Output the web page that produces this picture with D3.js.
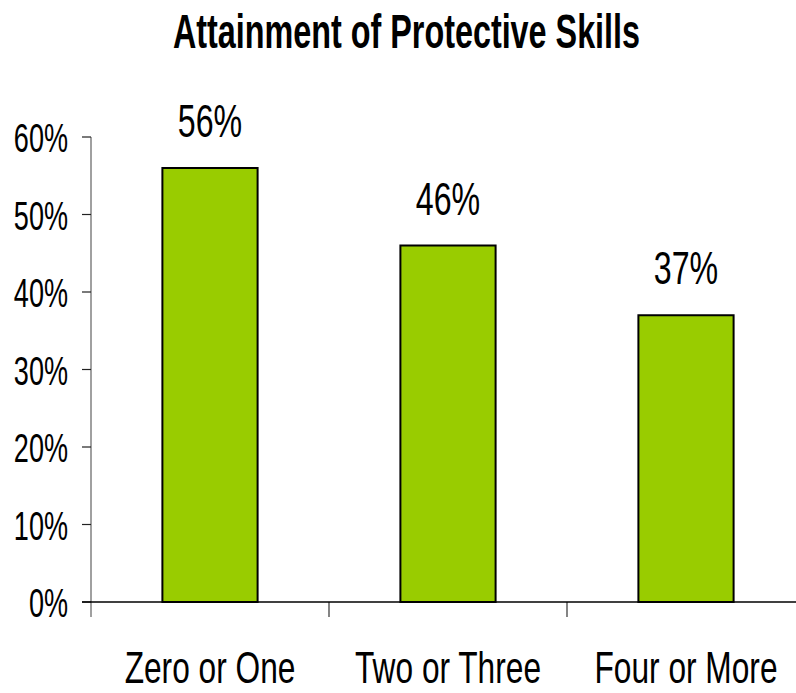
<!DOCTYPE html>
<html lang="en">
<head>
  <meta charset="UTF-8" />
  <title>Attainment of Protective Skills</title>
  <script src="https://d3js.org/d3.v7.min.js"></script>
  <style>
    body {
      margin: 0;
      background: #fff;
    }

    svg {
      display: block;
      font-family: "Liberation Sans", Arial, sans-serif;
    }
  </style>
</head>
<body>
  <svg width="796" height="693" id="chart"></svg>

  <script>
    const categories = ["Zero or One", "Two or Three", "Four or More"];
    const values = [56, 46, 37];
    const yTicks = [0, 10, 20, 30, 40, 50, 60];

    const svg = d3.select("#chart");
    const plotLeft = 91, plotRight = 805, plotTop = 137, plotBottom = 602;

    const x = d3.scaleBand()
      .domain(categories)
      .range([plotLeft, plotRight])
      .paddingInner(0.6)
      .paddingOuter(0.3);

    const y = d3.scaleLinear()
      .domain([0, 60])
      .range([plotBottom, plotTop]);

    // no narrow font installed, so squeeze the text sideways
    const squeeze = (px, py, sx) => `translate(${px},${py}) scale(${sx},1)`;

    // title
    svg.append("text")
      .attr("transform", squeeze(406.5, 48, 0.66))
      .attr("text-anchor", "middle")
      .attr("font-weight", "bold")
      .attr("font-size", 49)
      .text("Attainment of Protective Skills");

    // y axis
    svg.append("line")
      .attr("x1", plotLeft).attr("x2", plotLeft)
      .attr("y1", plotTop).attr("y2", plotBottom + 15)
      .attr("stroke", "#808080")
      .attr("stroke-width", 1.5);

    svg.selectAll(".ytick")
      .data(yTicks)
      .join("line")
      .attr("x1", plotLeft - 9).attr("x2", plotLeft)
      .attr("y1", d => y(d)).attr("y2", d => y(d))
      .attr("stroke", "#222")
      .attr("stroke-width", 1.2);

    svg.selectAll(".ylabel")
      .data(yTicks)
      .join("text")
      .attr("transform", d => squeeze(68, y(d) + 15, 0.66))
      .attr("text-anchor", "end")
      .attr("font-size", 41)
      .text(d => d + "%");

    // category separators
    const bandStep = (plotRight - plotLeft) / categories.length;
    svg.selectAll(".xtick")
      .data(d3.range(1, categories.length))
      .join("line")
      .attr("x1", i => plotLeft + i * bandStep).attr("x2", i => plotLeft + i * bandStep)
      .attr("y1", plotBottom).attr("y2", plotBottom + 15)
      .attr("stroke", "#333")
      .attr("stroke-width", 1.2);

    // bars
    svg.selectAll(".bar")
      .data(values)
      .join("rect")
      .attr("x", (d, i) => x(categories[i]))
      .attr("y", d => y(d))
      .attr("width", x.bandwidth())
      .attr("height", d => plotBottom - y(d))
      .attr("fill", "#99cc00")
      .attr("stroke", "#000")
      .attr("stroke-width", 2);

    // x axis baseline
    svg.append("line")
      .attr("x1", plotLeft - 9).attr("x2", 796)
      .attr("y1", plotBottom).attr("y2", plotBottom)
      .attr("stroke", "#000")
      .attr("stroke-width", 1.5);

    // value labels
    svg.selectAll(".vlabel")
      .data(values)
      .join("text")
      .attr("transform", (d, i) => squeeze(x(categories[i]) + x.bandwidth() / 2, y(d) - 31, 0.7))
      .attr("text-anchor", "middle")
      .attr("font-size", 46)
      .text(d => d + "%");

    // category labels
    svg.selectAll(".xlabel")
      .data(categories)
      .join("text")
      .attr("transform", d => squeeze(x(d) + x.bandwidth() / 2, 683, 0.72))
      .attr("text-anchor", "middle")
      .attr("font-size", 44)
      .text(d => d);
  </script>
</body>
</html>
